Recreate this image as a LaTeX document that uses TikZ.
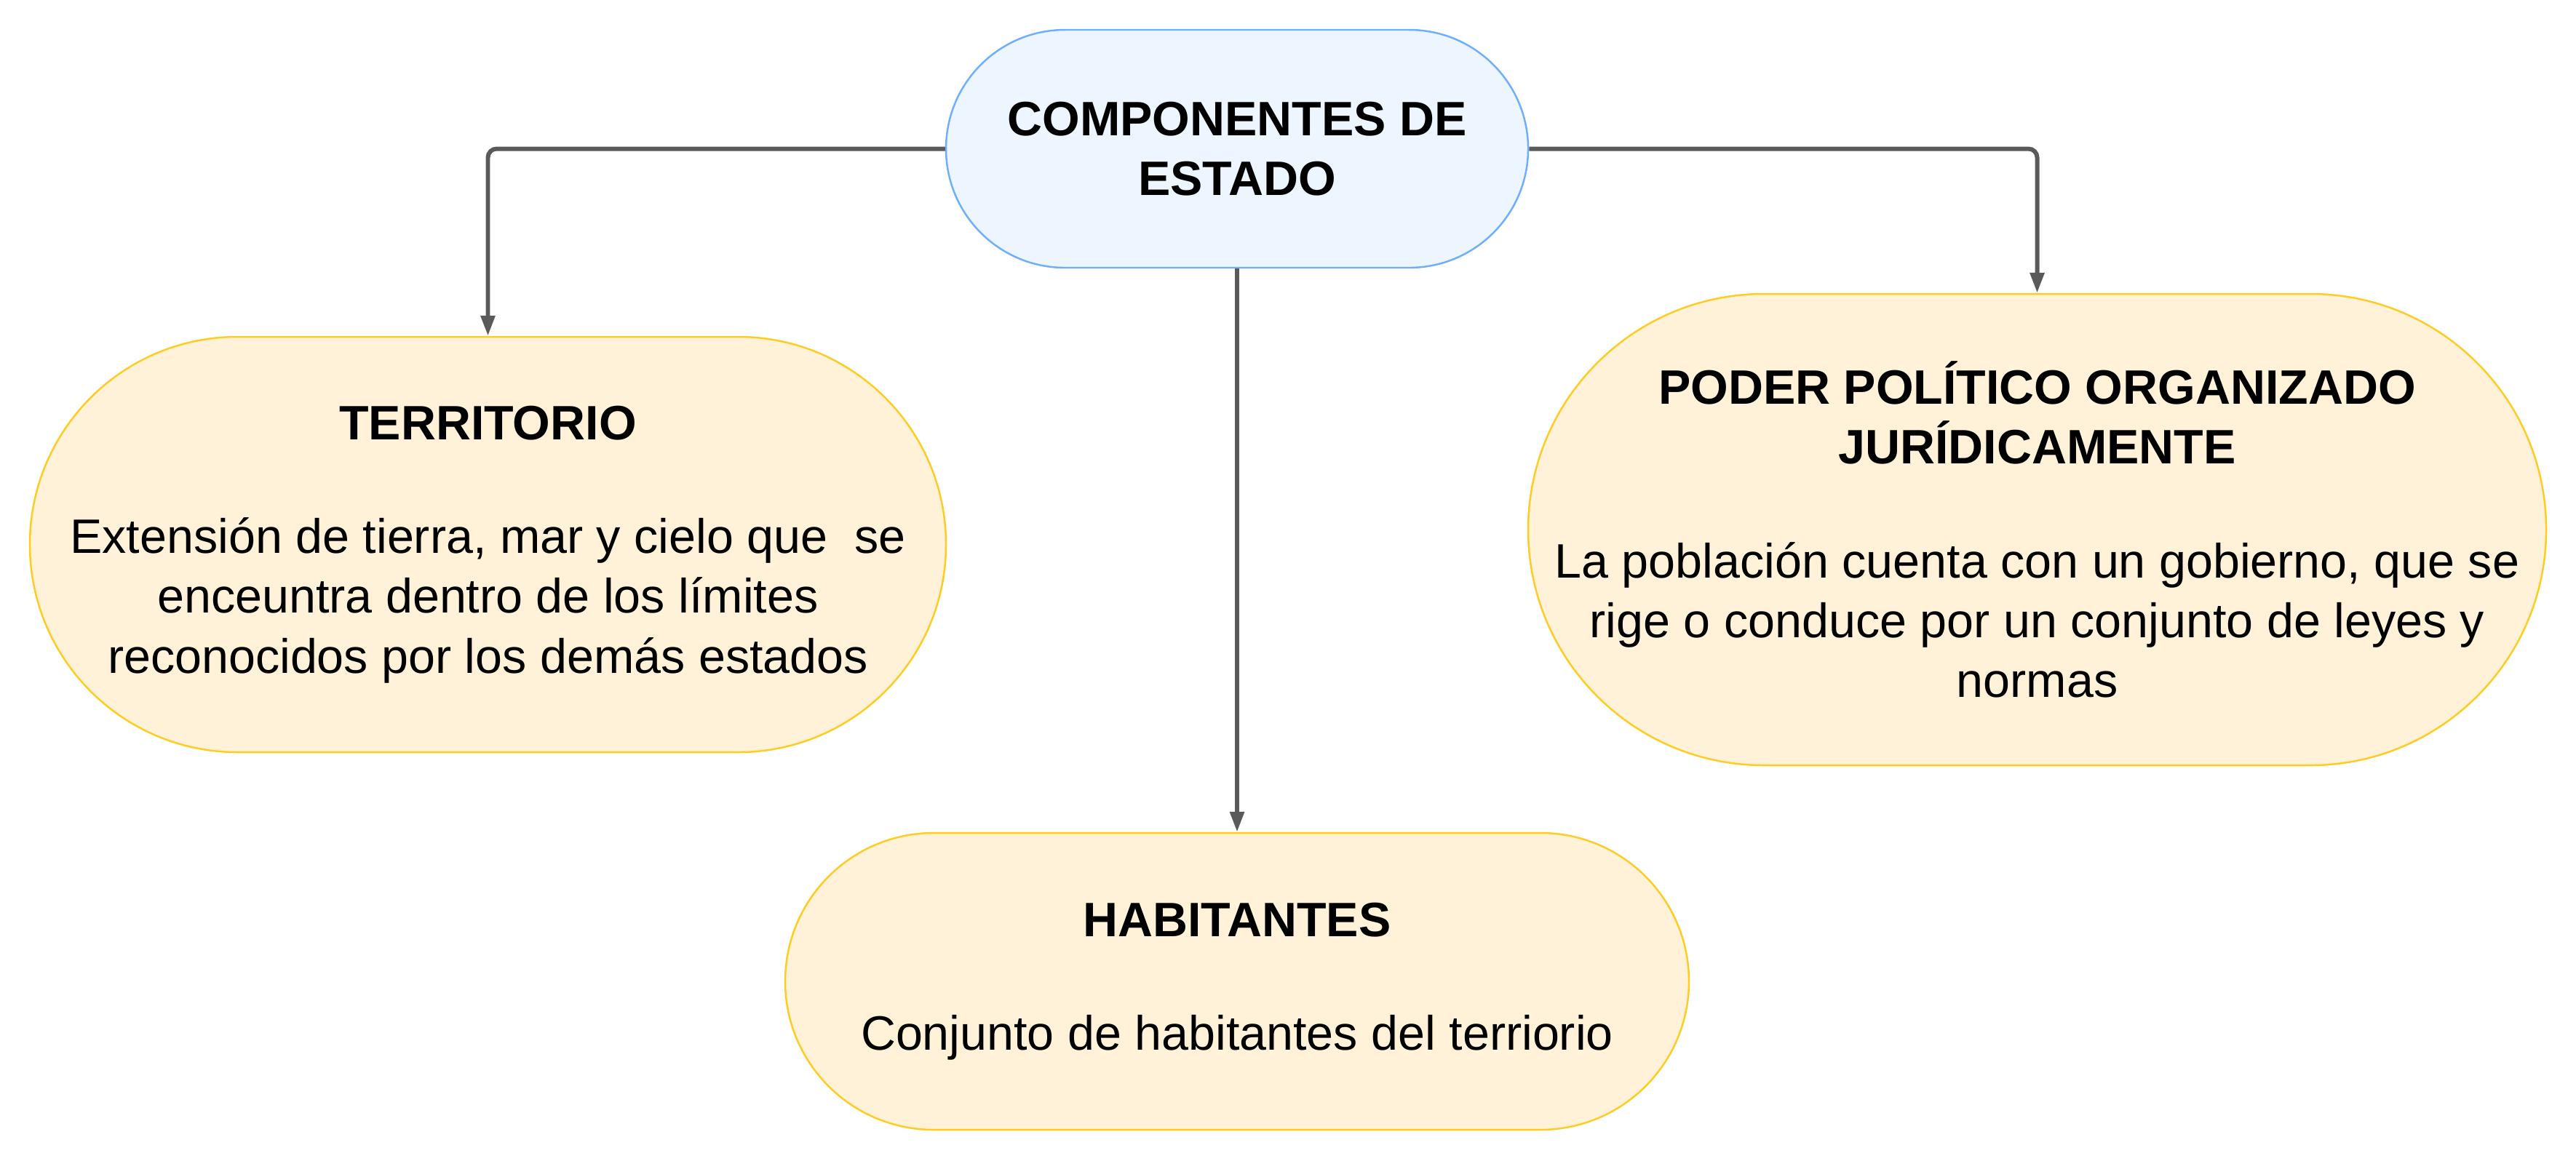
\documentclass[tikz,border=0pt]{standalone}
\usepackage{fontspec}
\setmainfont{Liberation Sans}
\usetikzlibrary{arrows.meta}

\definecolor{estadofill}{HTML}{EDF5FF}
\definecolor{estadoline}{HTML}{6EAEFF}
\definecolor{partefill}{HTML}{FFF2D9}
\definecolor{parteline}{HTML}{FFCC22}
\definecolor{linkgray}{HTML}{5A5A5A}

\begin{document}
\begin{tikzpicture}[>={Triangle[length=0.28cm, width=0.19cm]},
  pill/.style={rectangle, align=center, line width=0.7pt, rounded corners=#1, minimum height=2*#1, inner sep=1pt, font=\fontsize{18.9}{23.4}\selectfont},
  mainpill/.style={pill=#1, draw=estadoline, fill=estadofill},
  partpill/.style={pill=#1, draw=parteline, fill=partefill},
  link/.style={->, draw=linkgray, line width=1.7pt, rounded corners=0.12cm}]
\useasboundingbox (0,0) rectangle (35.40,-15.95);
\node[mainpill=1.635cm, minimum width=8cm] (estado) at (17.00,-2.045) {\textbf{COMPONENTES DE}\\\textbf{ESTADO}};
\node[partpill=2.855cm, minimum width=12.59cm] (territorio) at (6.705,-7.485) {\textbf{TERRITORIO}\\[21pt]Extensión de tierra, mar y cielo que\ \ se\\enceuntra dentro de los límites\\reconocidos por los demás estados};
\node[partpill=2.04cm, minimum width=12.42cm] (habitantes) at (17.00,-13.49) {\textbf{HABITANTES}\\[21pt]Conjunto de habitantes del terriorio};
\node[partpill=3.24cm, minimum width=13.99cm] (poder) at (27.995,-7.28) {\textbf{PODER POLÍTICO ORGANIZADO}\\\textbf{JURÍDICAMENTE}\\[21pt]La población cuenta con un gobierno, que se\\rige o conduce por un conjunto de leyes y\\normas};
\draw[link] (estado.west) -| (territorio.north);
\draw[link] (estado.east) -| (poder.north);
\draw[link] (estado.south) -- (habitantes.north);
\end{tikzpicture}
\end{document}
